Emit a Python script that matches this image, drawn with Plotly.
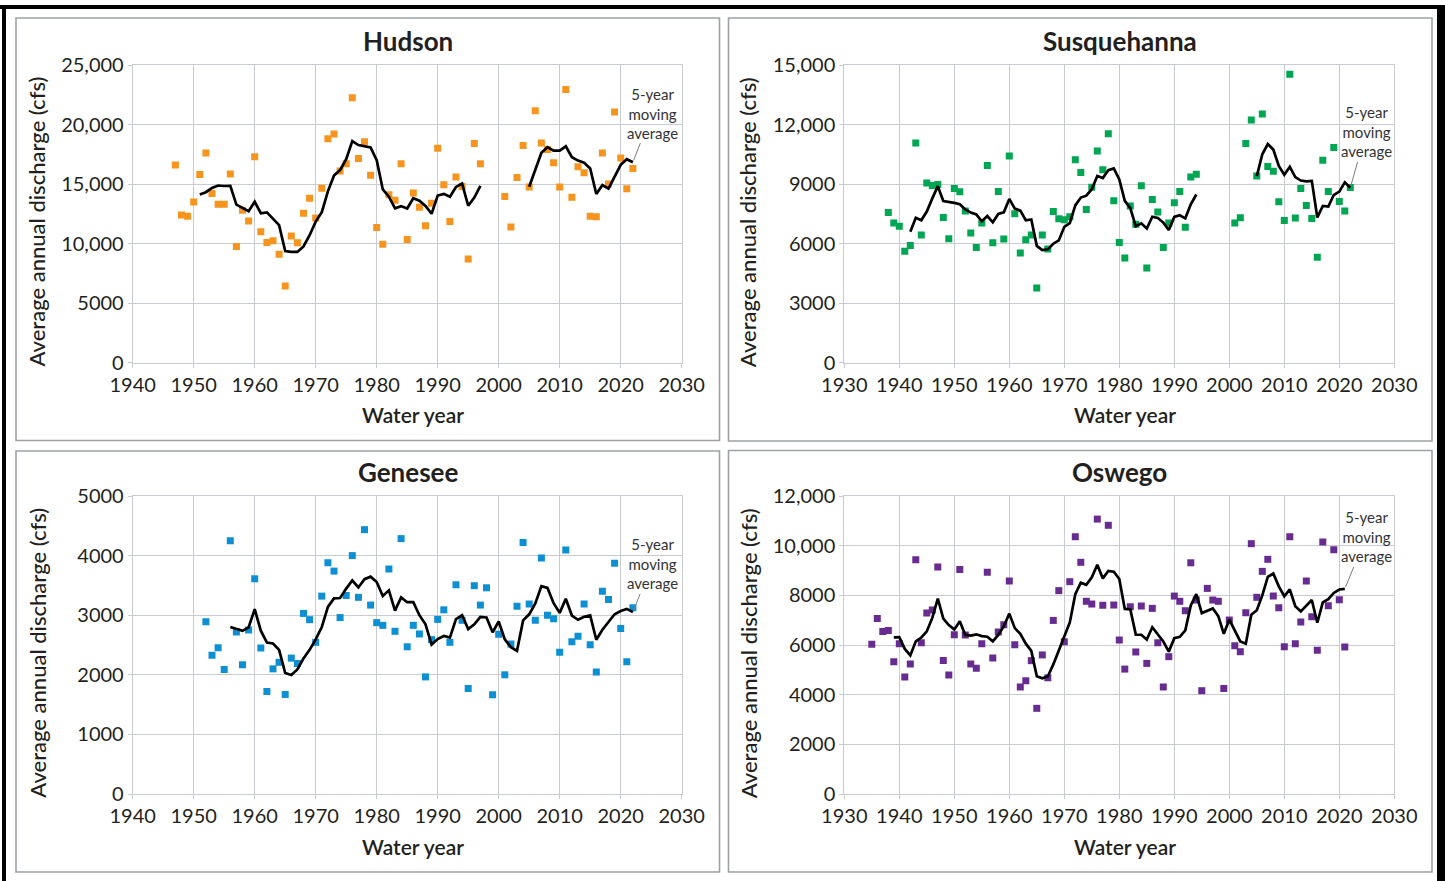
import pandas as pd
import plotly.graph_objects as go

# ---- Annual mean discharge (cfs) by water year; None = no record ----
hudson_first_year = 1947
hudson_cfs = [16600, 12400, 12300, 13500, 15800, 17600, 14200, 13300, 13300, 15850,
              9750, 12800, 11900, 17300, 11000, 10100, 10250, 9100, 6440, 10650,
              10080, 12550, 13800, 12150, 14650, 18800, 19200, 16100, 16700, 22250,
              17150, 18550, 15750, 11350, 9950, 14100, 13650, 16700, 10350, 14250,
              13050, 11500, 13400, 18000, 14950, 11850, 15600, 14800, 8700, 18400,
              16700, None, None, None, 13950, 11400, 15550, 18250, 14750, 21150,
              18450, 17900, 16800, 14750, 22950, 13900, 16450, 15950, 12300, 12250,
              17600, 15000, 21050, 17200, 14600, 16300]

susquehanna_first_year = 1938
susquehanna_cfs = [7570, 7040, 6870, 5610, 5910, 11070, 6430, 9060, 8930, 8980,
                   7320, 6250, 8780, 8610, 7640, 6530, 5810, 7040, 9930, 6050,
                   8630, 6230, 10420, 7500, 5530, 6200, 6430, 3770, 6430, 5730,
                   7620, 7250, 7200, 7350, 10220, 9580, 7720, 8840, 10670, 9720,
                   11540, 8160, 6060, 5280, 7890, 6970, 8910, 4770, 8220, 7590,
                   5810, 7040, 8060, 8630, 6830, 9360, 9500,
                   None, None, None, None, None, None,
                   7040, 7300, 11040, 12230, 9410, 12530, 9880, 9650, 8110, 7170,
                   14540, 7290, 8780, 7920, 7270, 5310, 10200, 8630, 10840, 8120,
                   7640, 8830]

genesee_first_year = 1952
genesee_cfs = [2890, 2330, 2455, 2090, 4250, 2720, 2170, 2750, 3610, 2450,
               1720, 2100, 2210, 1670, 2280, 2190, 3030, 2925, 2545, 3320,
               3880, 3740, 2960, 3330, 4000, 3300, 4435, 3170, 2875, 2830,
               3775, 2730, 4285, 2470, 2830, 2685, 1965, 2590, 2930, 3090,
               2545, 3510, 2915, 1770, 3495, 3170, 3460, 1665, 2680, 2000,
               2515, 3150, 4220, 3190, 2915, 3960, 3000, 2940, 2380, 4095,
               2555, 2645, 3190, 2505, 2045, 3400, 3265, 3870, 2775, 2220,
               3125]

oswego_first_year = 1935
oswego_cfs = [6030, 7070, 6540, 6580, 5330, 6050, 4710, 5230, 9430, 6090,
              7290, 7410, 9140, 5380, 4790, 6415, 9045, 6400, 5230, 5060,
              6050, 8925, 5475, 6520, 6820, 8575, 6010, 4310, 4560, 5370,
              3450, 5600, 4680, 6990, 8190, 6130, 8550, 10360, 9330, 7760,
              7650, 11070, 7600, 10820, 7610, 6200, 5030, 7540, 5720, 7570,
              5260, 7475, 6090, 4310, 5530, 7970, 7760, 7380, 9310, 7810,
              4160, 8280, 7810, 7760, 4250, 7005, 5970, 5730, 7300, 10080,
              7920, 8965, 9450, 7970, 7500, 5930, 10360, 6050, 6925, 8575,
              7140, 5785, 10145, 7580, 9835, 7825, 5920]

# y-axis ticks per panel
hudson_ticks = [0, 5000, 10000, 15000, 20000, 25000]
hudson_ticktext = ["0", "5000", "10,000", "15,000", "20,000", "25,000"]
susquehanna_ticks = [0, 3000, 6000, 9000, 12000, 15000]
susquehanna_ticktext = ["0", "3000", "6000", "9000", "12,000", "15,000"]
genesee_ticks = [0, 1000, 2000, 3000, 4000, 5000]
genesee_ticktext = ["0", "1000", "2000", "3000", "4000", "5000"]
oswego_ticks = [0, 2000, 4000, 6000, 8000, 10000, 12000]
oswego_ticktext = ["0", "2000", "4000", "6000", "8000", "10,000", "12,000"]

W, H = 1445, 881
FONT = "Lato"
TEXT = "#231f20"
GRID = "#c8ccd2"


def px(x):
    return x / W


def py(y):
    return 1 - y / H


def series(first_year, values):
    years = [first_year + i for i in range(len(values))]
    return pd.Series(values, index=years, dtype="float64")


panels = [
    # name, first year, values, colour, x range, x px, y px, ticks, ticktext, callout text centre
    ("Hudson", hudson_first_year, hudson_cfs, "#f7941d", [1940, 2030],
     (132.7, 681.7), (65, 362.7), hudson_ticks, hudson_ticktext, (652, 113)),
    ("Susquehanna", susquehanna_first_year, susquehanna_cfs, "#00a651", [1930, 2030],
     (844.3, 1394.3), (65, 362.7), susquehanna_ticks, susquehanna_ticktext, (1366, 132)),
    ("Genesee", genesee_first_year, genesee_cfs, "#0d8fd4", [1940, 2030],
     (132.7, 681.7), (496, 794), genesee_ticks, genesee_ticktext, (652, 564)),
    ("Oswego", oswego_first_year, oswego_cfs, "#682c91", [1930, 2030],
     (844.3, 1394.3), (496, 794), oswego_ticks, oswego_ticktext, (1366, 537)),
]

fig = go.Figure()
annotations = []
shapes = []

for i, (name, first, vals, colour, xr, xpx, ypx, tv, tt, callout) in enumerate(panels):
    n = "" if i == 0 else str(i + 1)
    xa, ya = "x" + n, "y" + n
    s = series(first, vals)
    ma = s.rolling(5).mean()

    fig.add_trace(go.Scatter(
        x=s.index, y=s.values, mode="markers", xaxis=xa, yaxis=ya,
        marker=dict(symbol="square", size=7, color=colour, line=dict(width=0)),
        showlegend=False, hoverinfo="x+y"))
    fig.add_trace(go.Scatter(
        x=ma.index, y=ma.values, mode="lines", xaxis=xa, yaxis=ya,
        line=dict(color="#000000", width=2.7), connectgaps=False,
        showlegend=False, hoverinfo="x+y"))

    ymax = tv[-1]
    fig.update_layout(**{
        "xaxis" + n: dict(
            domain=[px(xpx[0]), px(xpx[1])], range=xr, anchor=ya,
            tickmode="linear", tick0=xr[0], dtick=10,
            showgrid=True, gridcolor=GRID, gridwidth=1,
            showline=True, linecolor=GRID, linewidth=1, mirror=True,
            ticks="outside", ticklen=4, tickcolor=GRID,
            zeroline=False, fixedrange=True, automargin=False,
            tickfont=dict(family=FONT, size=20, color=TEXT)),
        "yaxis" + n: dict(
            domain=[py(ypx[1]), py(ypx[0])], range=[0, ymax], anchor=xa,
            tickmode="array", tickvals=tv, ticktext=tt,
            showgrid=True, gridcolor=GRID, gridwidth=1,
            showline=True, linecolor=GRID, linewidth=1, mirror=True,
            ticks="outside", ticklen=4, tickcolor=GRID,
            zeroline=False, fixedrange=True, automargin=False,
            tickfont=dict(family=FONT, size=20, color=TEXT)),
    })

    # panel title
    cx = (xpx[0] + xpx[1]) / 2
    annotations.append(dict(
        text="<b>%s</b>" % name, x=px(cx + 0.5), y=py(ypx[0] - 24),
        xref="paper", yref="paper", showarrow=False,
        xanchor="center", yanchor="middle",
        font=dict(family=FONT, size=26, color=TEXT)))
    # axis titles
    annotations.append(dict(
        text="Water year", x=px(cx + 6), y=py(ypx[1] + 52),
        xref="paper", yref="paper", showarrow=False,
        xanchor="center", yanchor="middle",
        font=dict(family=FONT, size=21, color=TEXT, weight=600)))
    annotations.append(dict(
        text="Average annual discharge (cfs)", x=px(xpx[0] - 96),
        y=py((ypx[0] + ypx[1]) / 2 + 8), textangle=-90,
        xref="paper", yref="paper", showarrow=False,
        xanchor="center", yanchor="middle",
        font=dict(family=FONT, size=22, color=TEXT, weight=500)))

    # callout for the moving-average line, pointing at its last value
    last_year = ma.dropna().index[-1]
    last_val = ma.dropna().iloc[-1]
    x_head = xpx[0] + (last_year - xr[0]) / (xr[1] - xr[0]) * (xpx[1] - xpx[0])
    y_head = ypx[1] - last_val / ymax * (ypx[1] - ypx[0])
    annotations.append(dict(
        text="5-year<br>moving<br>average", x=last_year, y=last_val,
        xref=xa, yref=ya, showarrow=True, arrowhead=0, arrowwidth=1,
        arrowcolor="#7a7d80", ax=callout[0] - x_head, ay=callout[1] - y_head,
        standoff=2, align="center",
        font=dict(family=FONT, size=15, color="#333333")))

# panel frames
frames = [(16, 18, 719.5, 440.5), (728.5, 18, 1432, 441),
          (16, 451, 719.5, 872), (728.5, 450.5, 1432, 872)]
for x0, y0, x1, y1 in frames:
    shapes.append(dict(type="rect", xref="paper", yref="paper",
                       x0=px(x0), y0=py(y1), x1=px(x1), y1=py(y0),
                       line=dict(color="#9ea2a7", width=1.6), layer="below"))

# outer black border (top, left, right)
shapes.append(dict(type="rect", xref="paper", yref="paper",
                   x0=0, x1=1, y0=py(9), y1=py(5),
                   line=dict(width=0), fillcolor="#000000"))
shapes.append(dict(type="rect", xref="paper", yref="paper",
                   x0=px(2), x1=px(6), y0=0, y1=py(5),
                   line=dict(width=0), fillcolor="#000000"))
shapes.append(dict(type="rect", xref="paper", yref="paper",
                   x0=px(1437), x1=1, y0=0, y1=py(5),
                   line=dict(width=0), fillcolor="#000000"))

fig.update_layout(
    width=W, height=H, autosize=False,
    margin=dict(l=0, r=0, t=0, b=0, pad=0, autoexpand=False),
    paper_bgcolor="#ffffff", plot_bgcolor="#ffffff",
    annotations=annotations, shapes=shapes,
    font=dict(family=FONT, color=TEXT), showlegend=False)

fig.write_html(
    "out.html",
    config={"displayModeBar": False, "responsive": False},
    post_script="document.body.style.margin='0px';document.body.style.overflow='hidden';")
